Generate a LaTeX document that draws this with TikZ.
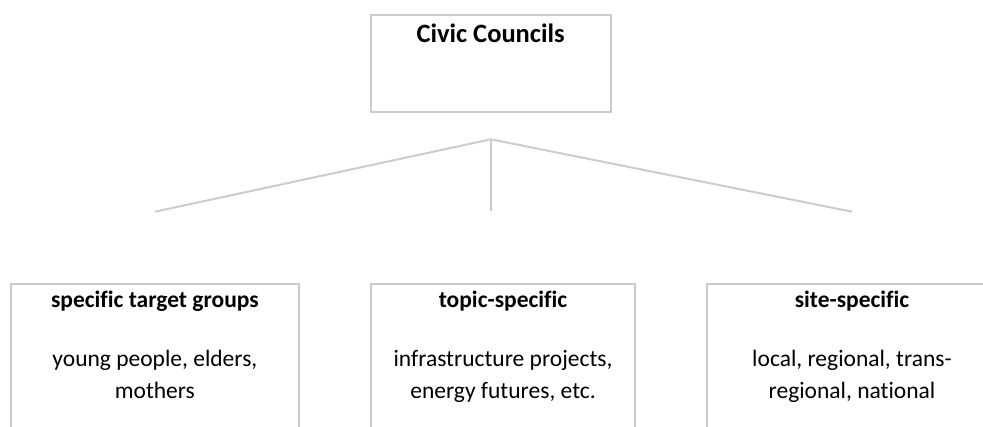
\documentclass[tikz,border=0pt]{standalone}
\usepackage{fontspec}
\setmainfont{Carlito}[Ligatures=NoCommon]
\usetikzlibrary{positioning}

\begin{document}
\begin{tikzpicture}[x=1pt,y=-1pt,
  every node/.style={font=\fontsize{23.5}{32}\selectfont,align=center,inner sep=0pt},
  box/.style={draw=gray!40,line width=2pt,rectangle},
  link/.style={draw=gray!40,line width=2pt}]
\useasboundingbox (0,0) rectangle (983,427);
\clip (0,0) rectangle (983,427);
% top of the tree
\node[box,minimum width=240pt,minimum height=97pt] (council) at (490.6,63.2) {};
\node[below=10pt of council.north,font=\fontsize{26.5}{32}\selectfont\bfseries]
      (councilText) {Civic Councils};

% the three kinds of councils (boxes run off the page)
\node[box,minimum width=288pt,minimum height=200pt] (groups) at (154.9,384.3) {};
\node[box,minimum width=264pt,minimum height=200pt] (topic)  at (503,384.3) {};
\node[box,minimum width=290pt,minimum height=200pt] (site)   at (852,384.3) {};
\node[below=8pt of groups.north] (groupsText)
      {\textbf{specific target groups}\\[27pt]young people, elders,\\mothers};
\node[below=8pt of topic.north] (topicText)
      {\textbf{topic-specific}\\[27pt]infrastructure projects,\\energy futures, etc.};
\node[below=8pt of site.north] (siteText)
      {\textbf{site-specific}\\[27pt]local, regional, trans-\\regional, national};

% fork
\coordinate (fork)      at (491,139.3);
\coordinate (groupsEnd) at (155,211.7);
\coordinate (topicEnd)  at (491,211);
\coordinate (siteEnd)   at (852,211.7);
\draw[link] (fork) -- (groupsEnd);
\draw[link] (fork) -- (topicEnd);
\draw[link] (fork) -- (siteEnd);
\end{tikzpicture}
\end{document}
